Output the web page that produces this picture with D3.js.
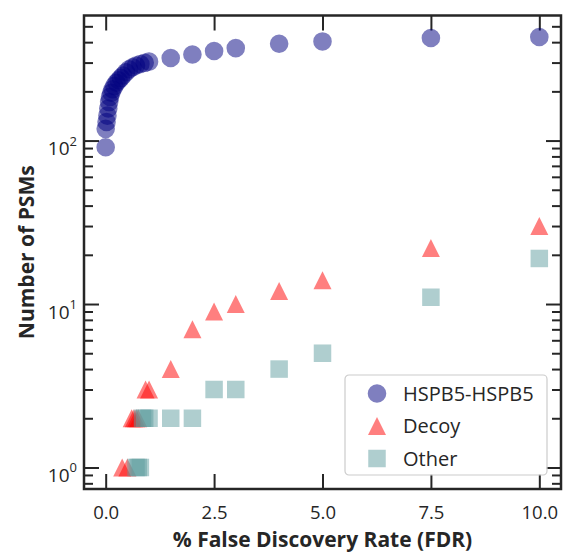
<!DOCTYPE html>
<html>

<head>
    <meta charset="UTF-8">
    <style>
        body {
            margin: 0;
            background: #fff;
        }

        svg text {
            font-family: "Open Sans", sans-serif;
            fill: #262626;
        }
    </style>
</head>

<body>
    <svg></svg>

    <script src="https://d3js.org/d3.v7.min.js"></script>

    <script>
        let width = 563, height = 554;

        // FDR thresholds (%) and number of PSMs at each one
        let hspbFdr = [0, 0, 0.02, 0.04, 0.06, 0.08, 0.1, 0.13, 0.16, 0.2, 0.25, 0.3, 0.35, 0.4, 0.47, 0.54, 0.62, 0.7, 0.8, 0.9, 1.0, 1.5, 2.0, 2.5, 3.0, 4.0, 5.0, 7.5, 10.0];
        let hspbCount = [91, 118, 130, 142, 157, 172, 185, 196, 206, 216, 226, 234, 242, 250, 262, 273, 281, 288, 294, 299, 304, 320, 336, 353, 368, 391, 404, 424, 430];

        let decoyFdr = [0.38, 0.5, 0.6, 0.65, 0.7, 0.75, 0.92, 1.0, 1.5, 2.0, 2.5, 3.0, 4.0, 5.0, 7.5, 10.0];
        let decoyCount = [1, 1, 2, 2, 2, 2, 3, 3, 4, 7, 9, 10, 12, 14, 22, 30];

        let otherFdr = [0.7, 0.75, 0.8, 0.85, 0.9, 1.0, 1.5, 2.0, 2.5, 3.0, 4.0, 5.0, 7.5, 10.0];
        let otherCount = [1, 1, 1, 2, 2, 2, 2, 2, 3, 3, 4, 5, 11, 19];

        let xTicks = [0, 2.5, 5, 7.5, 10];
        let yMajor = [1, 10, 100];

        let seriesNames = ["HSPB5-HSPB5", "Decoy", "Other"];

        let plotL = 84, plotR = 561, plotT = 15.5, plotB = 489;

        let svg = d3.select("svg")
            .attr("width", width)
            .attr("height", height)
            .attr("viewBox", "0 0 " + width + " " + height);

        // matplotlib-like 5% margins
        let allX = hspbFdr.concat(decoyFdr, otherFdr);
        let allY = hspbCount.concat(decoyCount, otherCount);
        let xMin = d3.min(allX), xMax = d3.max(allX);
        let xPad = (xMax - xMin) * 0.05;
        let lMin = Math.log10(d3.min(allY)), lMax = Math.log10(d3.max(allY));
        let lPad = (lMax - lMin) * 0.05;

        let x = d3.scaleLinear()
            .domain([xMin - xPad, xMax + xPad])
            .range([plotL, plotR]);

        let y = d3.scaleLog()
            .domain([Math.pow(10, lMin - lPad), Math.pow(10, lMax + lPad)])
            .range([plotB, plotT]);

        // triangle like matplotlib "^" (bbox centred, height = width)
        let triUp = {
            draw(context, size) {
                let h = Math.sqrt(size) / 2;
                context.moveTo(0, -h);
                context.lineTo(h, h);
                context.lineTo(-h, h);
                context.closePath();
            }
        };

        let styles = [
            { color: "navy", symbol: d3.symbolCircle, size: Math.PI * 9.3 * 9.3 },
            { color: "red", symbol: triUp, size: 18 * 18 },
            { color: "cadetblue", symbol: d3.symbolSquare, size: 17.5 * 17.5 }
        ];

        let series = [
            d3.zip(hspbFdr, hspbCount),
            d3.zip(decoyFdr, decoyCount),
            d3.zip(otherFdr, otherCount)
        ];

        let tickColor = "#262626";

        // ticks (all pointing inward)
        let minor = y.ticks().filter(v => yMajor.indexOf(v) < 0);

        function styleAxis(g) {
            g.select(".domain").remove();
            g.selectAll(".tick line").attr("stroke", tickColor).attr("stroke-width", 2);
        }

        svg.append("g")
            .attr("transform", "translate(0," + plotB + ")")
            .call(d3.axisBottom(x).tickValues(xTicks).tickSizeInner(-15).tickSizeOuter(0).tickPadding(17).tickFormat(d3.format(".1f")))
            .call(styleAxis)
            .selectAll("text")
            .attr("font-size", 18.5)
            .attr("font-family", "Open Sans, sans-serif")
            .attr("fill", "#262626");

        svg.append("g")
            .attr("transform", "translate(0," + plotT + ")")
            .call(d3.axisTop(x).tickValues(xTicks).tickSizeInner(-15).tickSizeOuter(0).tickFormat(""))
            .call(styleAxis);

        let yLeft = svg.append("g")
            .attr("transform", "translate(" + plotL + ",0)")
            .call(d3.axisLeft(y).tickValues(yMajor).tickSizeInner(-15).tickSizeOuter(0).tickPadding(7))
            .call(styleAxis);

        yLeft.selectAll(".tick text")
            .attr("font-size", 19)
            .attr("font-family", "Open Sans, sans-serif")
            .attr("fill", "#262626")
            .attr("dy", "0.75em")
            .each(function (d) {
                let t = d3.select(this).text("10");
                t.append("tspan")
                    .attr("font-size", 13)
                    .attr("dy", "-0.75em")
                    .text(Math.round(Math.log10(d)));
            });

        svg.append("g")
            .attr("transform", "translate(" + plotL + ",0)")
            .call(d3.axisLeft(y).tickValues(minor).tickSizeInner(-9).tickSizeOuter(0).tickFormat(""))
            .call(styleAxis);

        svg.append("g")
            .attr("transform", "translate(" + plotR + ",0)")
            .call(d3.axisRight(y).tickValues(yMajor).tickSizeInner(-15).tickSizeOuter(0).tickFormat(""))
            .call(styleAxis);

        svg.append("g")
            .attr("transform", "translate(" + plotR + ",0)")
            .call(d3.axisRight(y).tickValues(minor).tickSizeInner(-9).tickSizeOuter(0).tickFormat(""))
            .call(styleAxis);

        // points
        series.forEach((pts, i) => {
            let s = styles[i];
            svg.append("g")
                .selectAll("path")
                .data(pts)
                .enter()
                .append("path")
                .attr("d", d3.symbol().type(s.symbol).size(s.size))
                .attr("transform", d => "translate(" + x(d[0]) + "," + y(d[1]) + ")")
                .attr("fill", s.color)
                .attr("fill-opacity", 0.5);
        });

        // frame
        svg.append("rect")
            .attr("x", plotL)
            .attr("y", plotT)
            .attr("width", plotR - plotL)
            .attr("height", plotB - plotT)
            .attr("fill", "none")
            .attr("stroke", tickColor)
            .attr("stroke-width", 2.5);

        // legend
        let legend = svg.append("g").attr("transform", "translate(345,375)");
        legend.append("rect")
            .attr("width", 202)
            .attr("height", 100)
            .attr("rx", 4)
            .attr("fill", "white")
            .attr("fill-opacity", 0.8)
            .attr("stroke", "#cccccc")
            .attr("stroke-width", 1.2);

        let rows = legend.selectAll(".row")
            .data(seriesNames)
            .enter()
            .append("g")
            .attr("class", "row")
            .attr("transform", (d, i) => "translate(0," + (18.5 + i * 32.5) + ")");

        rows.append("path")
            .attr("transform", "translate(32,0)")
            .attr("d", (d, i) => d3.symbol().type(styles[i].symbol).size(styles[i].size)())
            .attr("fill", (d, i) => styles[i].color)
            .attr("fill-opacity", 0.5);

        rows.append("text")
            .attr("x", 58)
            .attr("dy", "0.35em")
            .attr("font-size", 20)
            .text(d => d);

        // axis titles
        svg.append("text")
            .attr("x", (plotL + plotR) / 2)
            .attr("y", 547)
            .attr("text-anchor", "middle")
            .attr("font-size", 21)
            .attr("font-weight", "bold")
            .text("% False Discovery Rate (FDR)");

        svg.append("text")
            .attr("transform", "translate(34," + (plotT + plotB) / 2 + ") rotate(-90)")
            .attr("text-anchor", "middle")
            .attr("font-size", 21)
            .attr("font-weight", "bold")
            .text("Number of PSMs");
    </script>

</body>

</html>
